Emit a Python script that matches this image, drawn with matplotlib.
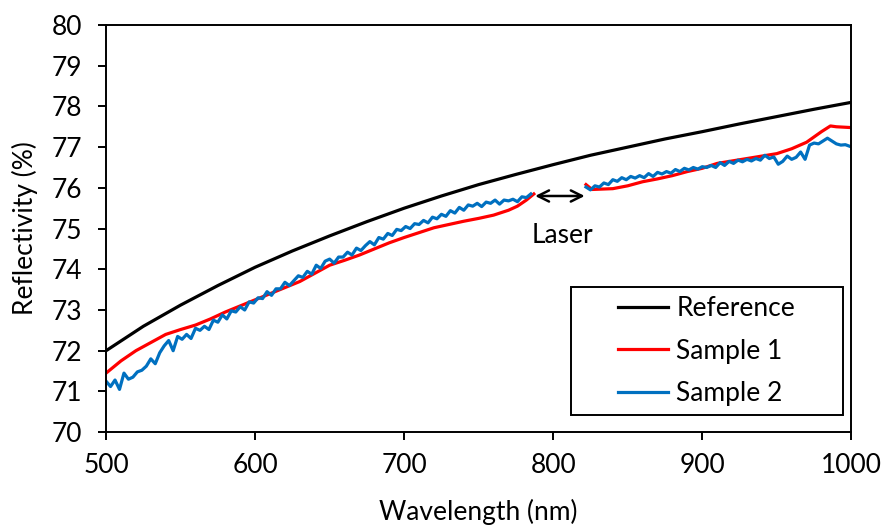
import numpy as np
import matplotlib
matplotlib.use("Agg")
import matplotlib.pyplot as plt
from matplotlib.patches import Rectangle

plt.rcParams['font.family'] = ['Lato', 'DejaVu Sans']

# reference mirror (smooth curve)
ref_wl = [500, 525, 550, 575, 600, 625, 650, 675, 700, 725, 750, 775, 800,
          825, 850, 875, 900, 925, 950, 975, 1000]
ref_r = [72.0, 72.6, 73.12, 73.6, 74.05, 74.45, 74.82, 75.17, 75.5, 75.8, 76.08,
         76.33, 76.57, 76.8, 77.0, 77.2, 77.38, 77.57, 77.75, 77.93, 78.1]

# sample 1, two segments either side of the laser line
s1_wl_a = [500, 510, 520, 530, 540, 550, 560, 570, 580, 590, 600, 610, 620, 630,
           640, 650, 660, 670, 680, 690, 700, 710, 720, 730, 740, 750, 760, 770,
           776, 782, 787]
s1_r_a = [71.45, 71.75, 72.0, 72.2, 72.4, 72.52, 72.63, 72.78, 72.95, 73.1, 73.25,
          73.4, 73.55, 73.7, 73.9, 74.1, 74.22, 74.35, 74.5, 74.65, 74.78, 74.9,
          75.02, 75.1, 75.18, 75.25, 75.33, 75.45, 75.55, 75.7, 75.85]
s1_wl_b = [822, 826, 840, 850, 860, 870, 880, 890, 900, 910, 920, 930, 940, 950,
           960, 970, 980, 986, 990, 1000]
s1_r_b = [76.08, 75.96, 75.98, 76.05, 76.15, 76.22, 76.3, 76.4, 76.48, 76.6, 76.66,
          76.72, 76.78, 76.84, 76.96, 77.12, 77.38, 77.52, 77.5, 77.48]

# sample 2 (noisy), 3 nm steps
s2_wl_a = np.arange(500, 786, 3)
s2_r_a = [71.25, 71.12, 71.28, 71.05, 71.45, 71.3, 71.35, 71.48, 71.52, 71.62,
          71.8, 71.68, 71.95, 72.12, 72.25, 72.0, 72.35, 72.28, 72.4, 72.3,
          72.55, 72.5, 72.6, 72.52, 72.75, 72.7, 72.88, 72.78, 72.98, 72.95,
          73.08, 73.0, 73.2, 73.17, 73.3, 73.28, 73.45, 73.36, 73.52, 73.52,
          73.68, 73.6, 73.72, 73.84, 73.8, 73.95, 73.88, 74.1, 74.02, 74.2,
          74.25, 74.15, 74.3, 74.3, 74.42, 74.35, 74.52, 74.46, 74.58, 74.68,
          74.6, 74.78, 74.74, 74.88, 74.83, 74.98, 74.95, 75.05, 75.0, 75.12,
          75.1, 75.2, 75.14, 75.28, 75.24, 75.35, 75.3, 75.44, 75.38, 75.52,
          75.45, 75.58, 75.55, 75.62, 75.54, 75.65, 75.62, 75.7, 75.6, 75.7,
          75.68, 75.72, 75.66, 75.78, 75.76, 75.85]
s2_wl_b = np.arange(822, 1000, 3)
s2_r_b = [76.02, 75.95, 76.05, 76.02, 76.12, 76.08, 76.2, 76.16, 76.25, 76.2,
          76.28, 76.24, 76.3, 76.25, 76.35, 76.28, 76.38, 76.34, 76.4, 76.36,
          76.45, 76.4, 76.48, 76.44, 76.5, 76.46, 76.52, 76.5, 76.55, 76.5,
          76.62, 76.55, 76.65, 76.6, 76.68, 76.64, 76.7, 76.66, 76.72, 76.68,
          76.8, 76.72, 76.76, 76.58, 76.65, 76.78, 76.7, 76.75, 76.88, 76.7,
          77.05, 77.1, 77.08, 77.15, 77.22, 77.15, 77.08, 77.05, 77.06, 77.02]

fig = plt.figure(figsize=(8.84, 5.27), dpi=100)
ax = fig.add_axes([0.12, 0.18, 0.843, 0.7726])

ax.plot(ref_wl, ref_r, color='black', lw=2.3, label='Reference')
ax.plot(s1_wl_a, s1_r_a, color='#ff0000', lw=2.3, label='Sample 1')
ax.plot(s1_wl_b, s1_r_b, color='#ff0000', lw=2.3)
ax.plot(s2_wl_a, s2_r_a, color='#0070c0', lw=2.3, label='Sample 2')
ax.plot(s2_wl_b, s2_r_b, color='#0070c0', lw=2.3)

# laser gap marker
ax.annotate('', xy=(786, 75.8), xytext=(823, 75.8),
            arrowprops=dict(arrowstyle='<->', color='black', lw=1.8,
                            mutation_scale=20))
ax.text(806, 74.83, 'Laser', ha='center', va='center', fontsize=19)

ax.set_xlim(500, 1000)
ax.set_ylim(70, 80)
ax.set_xticks(range(500, 1001, 100))
ax.set_yticks(range(70, 81, 1))
ax.tick_params(direction='out', length=6, width=1.4, labelsize=19)
ax.tick_params(axis='y', pad=11)
ax.tick_params(axis='x', pad=9)
for sp in ax.spines.values():
    sp.set_linewidth(1.4)

ax.set_xlabel('Wavelength (nm)', fontsize=19, labelpad=15)
ax.set_ylabel('Reflectivity (%)', fontsize=19, labelpad=10)

# legend box is wider than its content in the original
ax.add_patch(Rectangle((0.624, 0.042), 0.365, 0.314, transform=ax.transAxes,
                       fill=True, facecolor='white', edgecolor='black',
                       lw=1.4, zorder=4))
leg = ax.legend(loc='center', bbox_to_anchor=(0.806, 0.199), fontsize=19,
                frameon=False, handlelength=1.9, borderpad=0,
                labelspacing=0.66, handletextpad=0.3)
leg.set_zorder(5)

fig.savefig('out.png', dpi=100)
